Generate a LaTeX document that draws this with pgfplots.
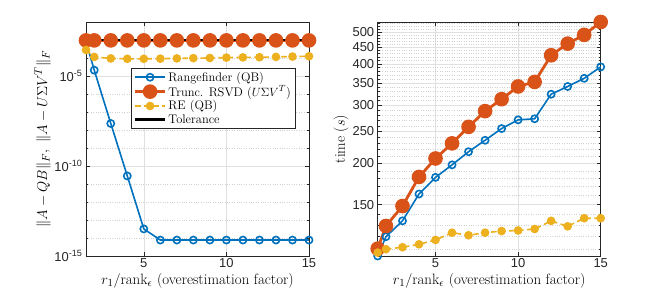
\documentclass[border=0pt]{standalone}
\usepackage{fontspec}
\usepackage{pgfplots}
\pgfplotsset{compat=1.18}
\newfontfamily\tickfont{Liberation Sans}
\definecolor{mblue}{rgb}{0,0.447,0.741}
\definecolor{morange}{rgb}{0.85,0.325,0.098}
\definecolor{myellow}{rgb}{0.929,0.694,0.125}
\definecolor{axgray}{rgb}{0.15,0.15,0.15}
\pgfplotsset{
  common/.style={
    scale only axis, width=223bp, height=234bp, anchor=south west,
    xmin=1.5, xmax=15, xtick={5,10,15},
    grid=both,
    major grid style={color=black!12, line width=0.5pt},
    minor grid style={color=black!18, dotted, line width=0.5pt},
    axis line style={axgray, line width=0.5pt},
    tick style={axgray, line width=0.5pt},
    tick align=inside, major tick length=4bp, minor tick length=2bp,
    ticklabel style={font=\tickfont\fontsize{13}{15}\selectfont, text=axgray},
    xticklabel style={yshift=1bp},
    /pgf/number format/assume math mode=true,
    label style={font=\fontsize{15}{18}\selectfont},
    xlabel={$r_1/\mathrm{rank}_\epsilon$ (overestimation factor)},
    xlabel style={yshift=1bp},
    clip=false,
  },
  rf/.style={color=mblue, line width=1.6bp, mark=o, mark size=3.6bp, mark options={line width=1.6bp, fill=white}},
  rs/.style={color=morange, line width=2.8bp, mark=*, mark size=5.9bp},
  re/.style={color=myellow, line width=1.6bp, dash pattern=on 5.5bp off 3.5bp, mark=*, mark size=3.5bp, mark options={solid}},
  tol/.style={color=black, line width=2.8bp},
}
\begin{document}
\begin{tikzpicture}
\useasboundingbox (0,0) rectangle (664bp,295bp);
\begin{axis}[ymode=log, common, at={(86bp,39bp)},
  ymin=1e-15, ymax=1e-2,
  ytick={1e-15,1e-10,1e-5},
  yticklabels={{10\textsuperscript{-15}},{10\textsuperscript{-10}},{10\textsuperscript{-5}}},
  minor ytick={1e-14,1e-13,1e-12,1e-11,1e-9,1e-8,1e-7,1e-6,1e-4,1e-3,1e-2},
  ylabel={$\|A-QB\|_F,\ \|A-U\Sigma V^T\|_F$},
  ylabel style={yshift=-3bp},
  legend style={at={(0.937,0.805)}, anchor=north east, draw=axgray, fill=white,
    font=\fontsize{12.5}{14}\selectfont, row sep=-1bp, inner sep=2bp},
  legend cell align=left,
  legend image code/.code={\draw[mark repeat=2,mark phase=2] plot coordinates {(0bp,0bp) (15bp,0bp) (30bp,0bp)};},
]
\addplot[rf] coordinates {(1.5,8e-4) (2,2.1e-5) (3,2.3e-8) (4,2.8e-11) (5,3.2e-14) (6,7.7e-15) (7,7.7e-15) (8,7.7e-15) (9,7.7e-15) (10,7.7e-15) (11,7.7e-15) (12,7.7e-15) (13,7.7e-15) (14,7.7e-15) (15,7.7e-15)};
\addlegendentry{Rangefinder (QB)}
\addplot[rs] coordinates {(1.5,9.5e-4) (2,9.5e-4) (3,9.5e-4) (4,9.5e-4) (5,9.5e-4) (6,9.5e-4) (7,9.5e-4) (8,9.5e-4) (9,9.5e-4) (10,9.5e-4) (11,9.5e-4) (12,9.5e-4) (13,9.5e-4) (14,9.5e-4) (15,9.5e-4)};
\addlegendentry{Trunc. RSVD ($U\Sigma V^T$)}
\addplot[re] coordinates {(1.5,2.8e-4) (2,1.15e-4) (3,9.5e-5) (4,9e-5) (5,9e-5) (6,9.2e-5) (7,9.5e-5) (8,9.8e-5) (9,1.0e-4) (10,1.05e-4) (11,1.08e-4) (12,1.1e-4) (13,1.15e-4) (14,1.2e-4) (15,1.25e-4)};
\addlegendentry{RE (QB)}
\addplot[tol] coordinates {(1.5,1e-3) (15,1e-3)};
\addlegendentry{Tolerance}
\end{axis}
\begin{axis}[ymode=log, common, at={(377.7bp,39bp)},
  ymin=104.9, ymax=536,
  ytick={150,200,250,300,350,400,450,500},
  yticklabels={150,200,250,300,350,400,450,500},
  minor ytick={110,120,130,140,160,170,180,190,210,220,230,240,260,270,280,290,310,320,330,340,360,370,380,390,410,420,430,440,460,470,480,490,510,520,530},
  ylabel={time ($s$)},
  ylabel style={yshift=-3bp},
]
\addplot[rf] coordinates {(1.5,104.9) (2,120) (3,134) (4,161.6) (5,181.5) (6,198) (7,217) (8,235) (9,255) (10,271) (11,273) (12,324) (13,342) (14,362) (15,392)};
\addplot[rs] coordinates {(1.5,110.4) (2,129.3) (3,148.6) (4,182) (5,207) (6,230) (7,258) (8,288) (9,313) (10,342) (11,353) (12,425) (13,461) (14,490) (15,536)};
\addplot[re] coordinates {(1.5,107.4) (2,110) (3,111.5) (4,113.8) (5,117.3) (6,123.4) (7,121.2) (8,123.4) (9,124.8) (10,125.3) (11,126.6) (12,134) (13,129) (14,136.5) (15,136.5)};
\end{axis}
\end{tikzpicture}
\end{document}
